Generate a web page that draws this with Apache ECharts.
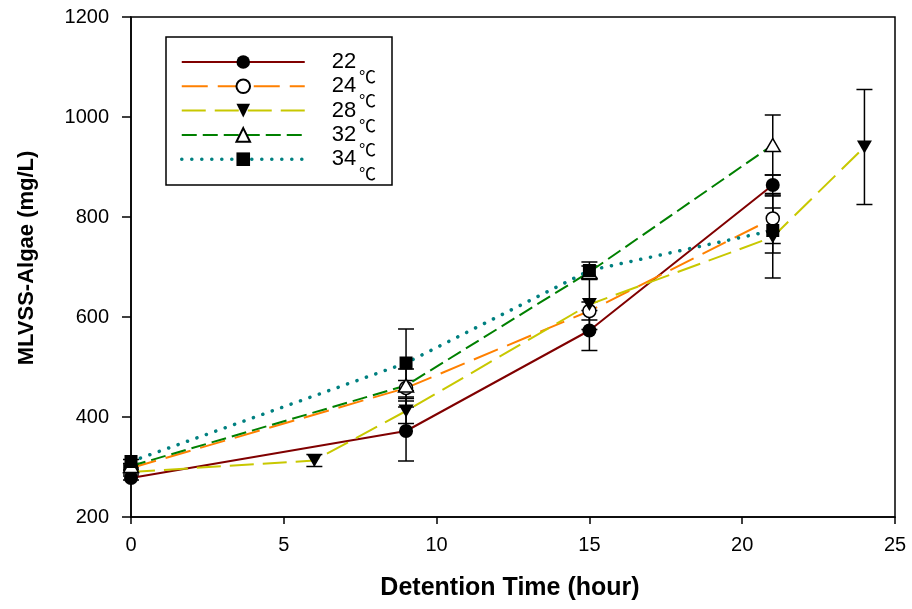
<!DOCTYPE html>
<html>
<head>
<meta charset="utf-8">
<script src="https://cdn.jsdelivr.net/npm/echarts@6/dist/echarts.min.js"></script>
<style>
html,body{margin:0;padding:0;background:#fff;}
#chart{width:912px;height:609px;}
</style>
</head>
<body>
<div id="chart"></div>
<script>
// ---- data ----
const seriesNames = ['22', '24', '28', '32', '34'];
const hoursCommon = [0, 9, 15, 21];
const hours28 = [0, 6, 9, 15, 21, 24];
const mlvss22 = [278, 372, 573, 864];
const err22   = [4, 60, 40, 20];
const mlvss24 = [298, 458, 612, 797];
const err24   = [4, 38, 18, 50];
const mlvss28 = [290, 313, 412, 625, 760, 940];
const err28   = [4, 12, 25, 50, 82, 115];
const mlvss32 = [302, 463, 690, 944];
const err32   = [4, 10, 12, 60];
const mlvss34 = [311, 508, 693, 773];
const err34   = [4, 68, 17, 45];
const xTicks = [0, 5, 10, 15, 20, 25];
const yTicks = [200, 400, 600, 800, 1000, 1200];

const FONT = "'Liberation Sans', Arial, sans-serif";

function pts(xs, ys) { return xs.map((x, i) => [x, ys[i]]); }
function errs(xs, ys, es) { return xs.map((x, i) => [x, ys[i] - es[i], ys[i] + es[i]]); }

const errorData = [].concat(
  errs(hoursCommon, mlvss22, err22),
  errs(hoursCommon, mlvss24, err24),
  errs(hours28, mlvss28, err28),
  errs(hoursCommon, mlvss32, err32),
  errs(hoursCommon, mlvss34, err34)
);

const chart = echarts.init(document.getElementById('chart'), null, {renderer: 'canvas'});

const degFont = "17px 'Noto Sans CJK SC', sans-serif";
const degY = [77, 101, 126, 150, 174];

const option = {
  animation: false,
  backgroundColor: '#fff',
  grid: {left: 131, right: 17, top: 17, bottom: 92, show: true, borderColor: '#000', borderWidth: 1.5, backgroundColor: 'transparent'},
  xAxis: {
    type: 'value', min: xTicks[0], max: xTicks[xTicks.length - 1], interval: 5,
    axisLine: {lineStyle: {color: '#000', width: 1.5}},
    axisTick: {show: true, length: 7, lineStyle: {color: '#000', width: 1.5}},
    axisLabel: {color: '#000', fontSize: 20, fontFamily: FONT, margin: 18},
    splitLine: {show: false}
  },
  yAxis: {
    type: 'value', min: yTicks[0], max: yTicks[yTicks.length - 1], interval: 200,
    axisLine: {show: true, lineStyle: {color: '#000', width: 1.5}},
    axisTick: {show: true, length: 9, lineStyle: {color: '#000', width: 1.5}},
    axisLabel: {color: '#000', fontSize: 20, fontFamily: FONT, margin: 22, formatter: v => String(v)},
    splitLine: {show: false}
  },
  legend: {
    orient: 'vertical', left: 180, top: 51, padding: 0,
    itemWidth: 123, itemHeight: 17, itemGap: 2.3,
    data: seriesNames.map(n => n === '34' ? {name: n, lineStyle: {width: 3.5, cap: 'round'}} : {name: n}),
    formatter: n => '{s| }{n|' + n + '}',
    textStyle: {color: '#000', fontFamily: FONT, lineHeight: 17, rich: {s: {width: 22, lineHeight: 17}, n: {fontSize: 22, lineHeight: 17, fontFamily: FONT, color: '#000'}}}
  },
  graphic: [
    {type: 'rect', z: -1, shape: {x: 166, y: 37, width: 226, height: 148}, style: {fill: '#fff', stroke: '#000', lineWidth: 1.5}}
  ].concat(degY.map(y => ({type: 'text', x: 359, y: y, style: {text: '℃', font: degFont, fill: '#000', verticalAlign: 'middle'}}))).concat([
    {type: 'text', x: 510, y: 588, style: {text: 'Detention Time (hour)', font: "bold 25px " + FONT, fill: '#000', align: 'center', verticalAlign: 'middle'}},
    {type: 'text', x: 27, y: 258, rotation: Math.PI / 2, style: {text: 'MLVSS-Algae (mg/L)', font: "bold 22px " + FONT, fill: '#000', align: 'center', verticalAlign: 'middle'}}
  ]),
  series: [
    {
      type: 'custom', name: 'err', z: 1, silent: true,
      data: errorData,
      renderItem: function (params, api) {
        const x = api.value(0);
        const lo = api.coord([x, api.value(1)]);
        const hi = api.coord([x, api.value(2)]);
        const hw = 8;
        const st = {stroke: '#000', lineWidth: 1.5};
        return {type: 'group', children: [
          {type: 'line', shape: {x1: lo[0], y1: lo[1], x2: hi[0], y2: hi[1]}, style: st},
          {type: 'line', shape: {x1: lo[0] - hw, y1: lo[1], x2: lo[0] + hw, y2: lo[1]}, style: st},
          {type: 'line', shape: {x1: hi[0] - hw, y1: hi[1], x2: hi[0] + hw, y2: hi[1]}, style: st}
        ]};
      }
    },
    {
      name: '22', type: 'line', z: 3, data: pts(hoursCommon, mlvss22),
      symbol: 'circle', symbolSize: 14,
      lineStyle: {color: '#800000', width: 2, type: 'solid'},
      itemStyle: {color: '#000', borderColor: '#000', borderWidth: 0}
    },
    {
      name: '24', type: 'line', z: 3, data: pts(hoursCommon, mlvss24),
      symbol: 'circle', symbolSize: 13,
      lineStyle: {color: '#ff8000', width: 2, type: [26, 10]},
      itemStyle: {color: '#fff', borderColor: '#000', borderWidth: 1.5}
    },
    {
      name: '28', type: 'line', z: 3, data: pts(hours28, mlvss28),
      symbol: 'triangle', symbolRotate: 180, symbolSize: [15, 13],
      lineStyle: {color: '#c8c800', width: 2, type: [24, 9]},
      itemStyle: {color: '#000', borderColor: '#000', borderWidth: 0}
    },
    {
      name: '32', type: 'line', z: 3, data: pts(hoursCommon, mlvss32),
      symbol: 'triangle', symbolSize: [15, 13],
      lineStyle: {color: '#008000', width: 2, type: [15, 6]},
      itemStyle: {color: '#fff', borderColor: '#000', borderWidth: 1.5}
    },
    {
      name: '34', type: 'line', z: 3, data: pts(hoursCommon, mlvss34),
      symbol: 'rect', symbolSize: 13,
      lineStyle: {color: '#008080', width: 3.5, type: [0.1, 9.9], cap: 'round'},
      itemStyle: {color: '#000', borderColor: '#000', borderWidth: 0}
    }
  ]
};
chart.setOption(option);
</script>
</body>
</html>
